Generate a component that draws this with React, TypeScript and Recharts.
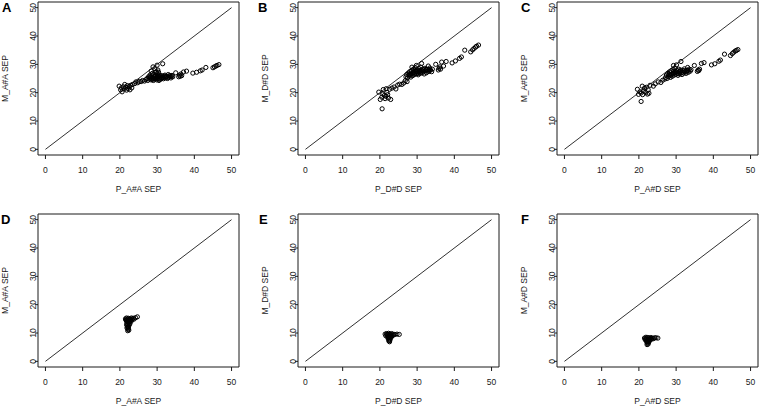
import { ScatterChart, Scatter, XAxis, YAxis, ReferenceLine, ReferenceArea } from "recharts";

const axisTicks = [0, 10, 20, 30, 40, 50];
const panelLetters = ["A", "B", "C", "D", "E", "F"];
const xTitles = ["P_A#A SEP", "P_D#D SEP", "P_A#D SEP", "P_A#A SEP", "P_D#D SEP", "P_A#D SEP"];
const yTitles = ["M_A#A SEP", "M_D#D SEP", "M_A#D SEP", "M_A#A SEP", "M_D#D SEP", "M_A#D SEP"];

// [P, M] pairs
const pointsA: [number, number][] = [
  [19.8, 22.3], [20.2, 21.0], [20.4, 21.7], [20.6, 20.3], [20.9, 22.1], [21.1, 21.3], [21.3, 22.9], [21.6, 21.9],
  [21.8, 20.9], [22.0, 22.5], [22.2, 21.4], [22.5, 22.2], [22.7, 21.0], [22.9, 22.6], [23.2, 21.7], [23.4, 22.9],
  [24.0, 23.2], [24.3, 23.8], [24.8, 23.5], [25.2, 24.0], [25.7, 23.9], [26.1, 24.3], [26.6, 24.1], [27.0, 24.6],
  [27.3, 25.0], [27.5, 24.3], [27.7, 25.6], [27.9, 24.8], [28.1, 26.2], [28.2, 25.3], [28.4, 24.5], [28.6, 25.9],
  [28.7, 26.8], [28.9, 25.1], [29.0, 24.3], [29.1, 26.4], [29.3, 25.6], [29.4, 24.8], [29.5, 27.2], [29.6, 26.0],
  [29.8, 25.3], [29.9, 24.5], [30.0, 26.7], [30.2, 25.8], [30.3, 25.0], [30.5, 24.3], [30.6, 26.3], [30.8, 25.5],
  [31.0, 24.8], [31.1, 26.0], [31.3, 25.3], [31.5, 25.9], [31.7, 24.9], [31.9, 25.6], [32.1, 26.2], [32.3, 25.2],
  [32.6, 25.8], [32.8, 25.0], [33.0, 26.4], [33.2, 25.5], [33.5, 25.9], [33.7, 25.2], [34.0, 26.1], [34.2, 25.6],
  [28.0, 25.6], [28.5, 25.0], [28.8, 24.7], [29.2, 25.2], [29.5, 25.9], [29.7, 24.9], [30.1, 25.5], [30.4, 26.0],
  [30.7, 24.7], [31.2, 25.0], [31.6, 25.4], [32.0, 25.9], [32.4, 25.6], [32.9, 25.4], [33.3, 26.0], [33.8, 25.7],
  [28.9, 29.1], [30.0, 29.7], [31.5, 30.2], [29.4, 28.4], [28.4, 27.6], [30.2, 28.0], [29.8, 27.4], [30.4, 27.2],
  [35.0, 27.0], [35.8, 25.6], [36.0, 26.2], [36.2, 25.8], [36.4, 26.6], [36.6, 26.0], [37.1, 27.3], [37.9, 27.6],
  [39.6, 26.9], [40.6, 27.2], [41.6, 27.7], [42.1, 28.0], [43.1, 28.9], [45.0, 28.8], [45.4, 29.1], [45.8, 29.4],
  [46.1, 29.6], [46.6, 29.9],
];

const pointsB: [number, number][] = [
  [20.6, 14.3],
  [19.7, 20.2], [20.1, 17.6], [20.5, 18.4], [20.9, 21.1], [21.2, 19.0], [21.4, 17.9], [21.6, 18.7], [21.9, 20.1],
  [22.1, 19.3], [22.3, 18.1], [22.6, 21.2], [22.9, 17.6], [21.7, 21.4], [20.8, 19.5],
  [23.2, 21.6], [23.8, 22.0], [24.3, 21.3], [24.8, 22.7], [25.3, 23.0], [25.9, 22.9], [26.4, 23.4], [26.8, 24.2], [27.3, 23.9],
  [27.0, 25.6], [27.2, 26.4], [27.4, 25.2], [27.6, 26.9], [27.8, 25.8], [28.0, 27.4], [28.1, 26.3], [28.3, 25.5],
  [28.5, 27.8], [28.6, 26.8], [28.8, 26.0], [29.0, 28.3], [29.1, 27.2], [29.3, 26.4], [29.5, 28.8], [29.6, 27.6],
  [29.8, 26.7], [30.0, 28.0], [30.1, 27.1], [30.3, 26.3], [30.5, 28.5], [30.6, 27.5], [30.8, 26.8], [31.0, 29.0],
  [31.1, 27.9], [31.3, 27.0], [31.5, 28.3], [31.7, 27.4], [31.9, 26.6], [32.1, 28.6], [32.3, 27.7], [32.5, 27.0],
  [32.8, 28.2], [33.0, 29.4], [33.2, 27.5], [33.4, 28.7], [33.6, 28.0], [33.9, 27.4], [34.1, 28.3],
  [28.4, 26.6], [28.9, 27.0], [29.4, 27.9], [29.9, 27.4], [30.4, 27.8], [30.9, 27.5], [31.4, 27.7], [31.8, 28.1],
  [32.4, 28.2], [32.9, 27.6], [33.3, 28.1], [30.2, 26.8], [29.2, 26.8], [27.9, 26.4],
  [31.2, 30.3], [29.8, 29.6], [28.6, 29.0],
  [35.0, 30.0], [35.7, 28.0], [35.9, 28.6], [36.1, 29.1], [36.3, 28.3], [36.6, 30.8], [37.1, 29.4], [37.8, 31.0],
  [39.4, 30.5], [40.3, 31.2], [41.4, 32.1], [41.9, 32.6], [42.8, 35.0], [44.4, 34.4], [44.9, 35.1], [45.3, 35.6],
  [45.7, 36.1], [46.0, 36.4], [46.5, 36.8],
];

const pointsC: [number, number][] = [
  [20.6, 16.9],
  [19.6, 21.2], [19.9, 19.4], [20.3, 20.3], [20.6, 19.9], [20.9, 22.3], [21.2, 20.6], [21.5, 21.6], [21.8, 20.1],
  [22.0, 21.9], [22.3, 19.5], [22.7, 19.8], [21.0, 19.3], [22.5, 21.0],
  [23.0, 22.6], [23.9, 22.3], [24.4, 23.1], [25.2, 23.8], [25.9, 23.6], [26.4, 24.4], [27.0, 24.8],
  [27.2, 25.4], [27.4, 26.2], [27.6, 25.0], [27.8, 26.8], [28.0, 25.7], [28.2, 27.3], [28.3, 26.2], [28.5, 25.4],
  [28.7, 27.7], [28.8, 26.6], [29.0, 25.8], [29.2, 28.1], [29.3, 27.0], [29.5, 26.2], [29.7, 28.6], [29.8, 27.4],
  [30.0, 26.5], [30.2, 27.9], [30.3, 26.9], [30.5, 26.1], [30.7, 28.3], [30.8, 27.3], [31.0, 26.6], [31.2, 28.0],
  [31.4, 27.1], [31.6, 26.4], [31.8, 27.8], [32.0, 26.9], [32.2, 28.4], [32.4, 27.4], [32.7, 26.8], [32.9, 27.9],
  [33.1, 28.9], [33.3, 27.2], [33.5, 28.3], [33.8, 27.6], [34.0, 28.1],
  [28.6, 26.1], [29.1, 26.6], [29.6, 27.1], [30.1, 27.3], [30.6, 26.7], [31.1, 27.5], [31.7, 27.2], [32.3, 27.8],
  [32.8, 27.3], [33.2, 27.8], [28.1, 26.4], [29.4, 27.6],
  [29.3, 29.6], [30.1, 29.8], [31.3, 31.0],
  [34.9, 29.6], [35.7, 27.5], [35.9, 28.0], [36.1, 27.8], [36.3, 28.3], [36.8, 30.3], [37.5, 30.6], [39.5, 29.8],
  [40.4, 30.2], [41.5, 31.1], [41.9, 31.5], [43.0, 33.6], [44.6, 33.1], [45.1, 33.8], [45.5, 34.3], [45.9, 34.7],
  [46.2, 34.9], [46.6, 35.2],
];

const pointsD: [number, number][] = [
  [21.5, 15.0], [21.7, 14.4], [21.8, 15.3], [22.0, 14.8], [22.1, 14.0], [22.3, 15.2], [22.4, 14.5], [22.6, 15.0],
  [22.7, 14.2], [22.9, 14.8], [23.1, 15.3], [23.2, 14.6], [23.4, 15.0], [23.6, 15.2], [23.8, 14.9], [21.9, 13.4],
  [22.2, 13.0], [22.4, 13.6], [22.0, 12.5], [22.3, 12.2], [22.5, 12.8], [21.9, 11.8], [22.2, 11.3], [22.4, 11.0],
  [22.1, 10.8], [22.7, 13.3], [21.8, 12.9], [24.2, 15.4], [24.7, 15.7],
  [21.6, 14.7], [22.2, 14.3], [22.5, 13.9], [22.8, 14.5], [23.0, 14.1], [22.1, 12.0], [22.3, 11.6], [21.9, 14.0],
];

const pointsE: [number, number][] = [
  [21.4, 9.6], [21.6, 9.0], [21.8, 9.8], [22.0, 9.3], [22.1, 8.7], [22.3, 9.9], [22.4, 9.1], [22.6, 9.6],
  [22.7, 8.5], [22.9, 9.4], [23.1, 9.8], [23.3, 9.2], [23.5, 9.6], [23.7, 9.3], [24.0, 9.5], [22.2, 8.1],
  [22.5, 7.8], [22.7, 7.5], [22.4, 7.2], [22.6, 6.9], [22.9, 8.2], [22.3, 8.5], [24.6, 9.6], [25.2, 9.5],
  [21.9, 9.5], [22.5, 8.8], [22.8, 9.0], [23.2, 8.8], [22.6, 8.2], [22.5, 7.4],
];

const pointsF: [number, number][] = [
  [21.5, 8.2], [21.7, 7.6], [21.9, 8.5], [22.0, 7.9], [22.2, 7.3], [22.3, 8.4], [22.5, 7.8], [22.7, 8.3],
  [22.8, 7.2], [23.0, 8.0], [23.2, 8.4], [23.4, 7.8], [23.6, 8.2], [23.9, 8.0], [24.2, 8.3], [22.1, 6.8],
  [22.3, 6.4], [22.5, 6.1], [22.2, 5.9], [22.6, 6.7], [22.4, 7.0], [24.6, 8.3], [25.1, 8.2],
  [21.8, 8.0], [22.4, 7.6], [22.9, 7.7], [23.3, 8.1], [22.3, 6.9], [22.7, 7.0],
];

const panelPoints = [pointsA, pointsB, pointsC, pointsD, pointsE, pointsF];

const FONT = '"Liberation Sans", Arial, Helvetica, sans-serif';
const INK = "#1a1a1a";
const colLeft = [0, 260, 519];
const rowTop = [0, 212];
const letterPos = [
  [2, 12], [258, 12], [521, 12],
  [1, 224], [259, 224], [521, 224],
];

const OpenCircle = (props: any) => (
  <circle cx={props.cx} cy={props.cy} r={2.1} fill="none" stroke="#000" strokeWidth={1} />
);

const YTick = (props: any) => {
  const { x, y, payload } = props;
  const tx = x + 1;
  return (
    <text
      x={tx}
      y={y}
      transform={`rotate(-90 ${tx} ${y})`}
      textAnchor="middle"
      fontSize={8.5}
      fontFamily={FONT}
      fill={INK}
    >
      {payload.value}
    </text>
  );
};

function Panel({ points, xTitle, yTitle }: { points: [number, number][]; xTitle: string; yTitle: string }) {
  const data = points.map(([x, y]) => ({ x, y }));
  const yLabel = (p: any) => {
    const vb = p && p.viewBox && p.viewBox.height ? p.viewBox : { x: 0, y: 2, width: 38, height: 153 };
    const cx = vb.x + 7.5;
    const cy = vb.y + vb.height / 2;
    return (
      <text
        x={cx}
        y={cy}
        transform={`rotate(-90 ${cx} ${cy})`}
        textAnchor="middle"
        fontSize={8.5}
        fontFamily={FONT}
        fill={INK}
      >
        {yTitle}
      </text>
    );
  };
  return (
    <ScatterChart width={260} height={200} margin={{ top: 2, right: 21, bottom: 0, left: 0 }}>
      <XAxis
        type="number"
        dataKey="x"
        domain={[-2, 52]}
        ticks={axisTicks}
        interval={0}
        allowDataOverflow
        axisLine={false}
        tickSize={4}
        tickMargin={8}
        height={45}
        tickLine={{ stroke: INK }}
        tick={{ fontSize: 8.5, fill: INK, fontFamily: FONT }}
        label={{ value: xTitle, position: "insideBottom", offset: 8, fontSize: 8.5, fill: INK, fontFamily: FONT }}
      />
      <YAxis
        type="number"
        dataKey="y"
        domain={[-2, 52]}
        ticks={axisTicks}
        interval={0}
        allowDataOverflow
        axisLine={false}
        tickSize={3}
        tickMargin={0}
        width={38}
        tickLine={{ stroke: INK }}
        tick={<YTick />}
        label={yLabel}
      />
      <ReferenceArea x1={-2} x2={52} y1={-2} y2={52} fill="none" stroke={INK} strokeWidth={1} ifOverflow="visible" />
      <ReferenceLine
        segment={[{ x: 0, y: 0 }, { x: 50, y: 50 }]}
        stroke={INK}
        strokeWidth={0.9}
        ifOverflow="visible"
      />
      <Scatter data={data} isAnimationActive={false} shape={OpenCircle} />
    </ScatterChart>
  );
}

export default function App() {
  return (
    <div style={{ position: "absolute", left: 0, top: 0, width: 760, height: 407, background: "#fff", overflow: "hidden" }}>
      {panelPoints.map((pts, i) => (
        <div
          key={i}
          style={{ position: "absolute", left: colLeft[i % 3], top: rowTop[Math.floor(i / 3)], width: 260, height: 200 }}
        >
          <Panel points={pts} xTitle={xTitles[i]} yTitle={yTitles[i]} />
        </div>
      ))}
      <svg width={760} height={407} style={{ position: "absolute", left: 0, top: 0, pointerEvents: "none" }}>
        {panelLetters.map((l, i) => (
          <text key={l} x={letterPos[i][0]} y={letterPos[i][1]} fontSize={13} fontWeight="bold" fontFamily={FONT} fill="#000">
            {l}
          </text>
        ))}
      </svg>
    </div>
  );
}
